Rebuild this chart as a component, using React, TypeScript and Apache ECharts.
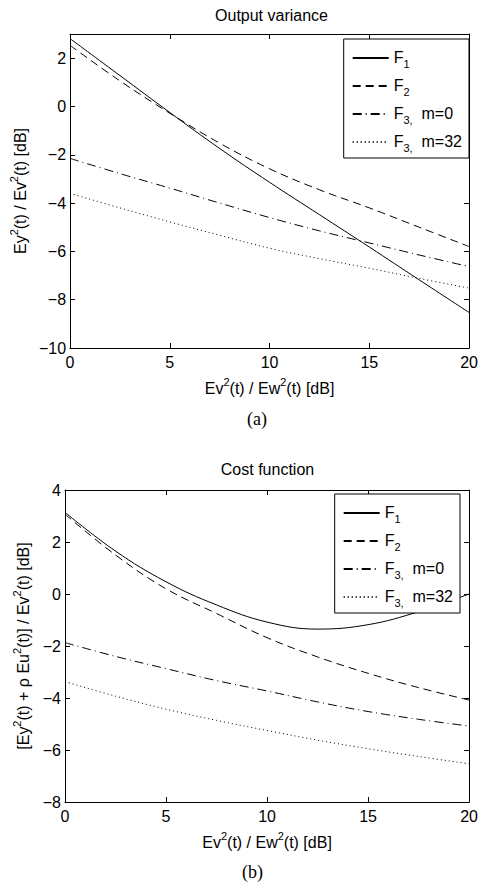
import React, { useEffect, useRef } from "react";
import * as echarts from "echarts";

const xs = [0, 2.5, 5, 7.5, 10, 12.5, 15, 17.5, 20];

// (a) Output variance
const varF1 = [2.81, 1.28, -0.25, -1.74, -3.14, -4.48, -5.82, -7.18, -8.53];
const varF2 = [2.53, 1.06, -0.28, -1.52, -2.58, -3.45, -4.2, -5.0, -5.8];
const varF3m0 = [-2.15, -2.78, -3.38, -4.0, -4.6, -5.15, -5.65, -6.15, -6.63];
const varF3m32 = [-3.6, -4.2, -4.78, -5.33, -5.87, -6.3, -6.7, -7.12, -7.52];

// (b) Cost function
const costF1 = [3.14, 1.65, 0.47, -0.42, -1.08, -1.35, -1.18, -0.68, 0.0];
const costF2 = [3.07, 1.5, 0.2, -0.75, -1.68, -2.42, -3.05, -3.6, -4.08];
const costF3m0 = [-1.87, -2.4, -2.87, -3.33, -3.73, -4.15, -4.52, -4.82, -5.08];
const costF3m32 = [-3.37, -3.93, -4.43, -4.86, -5.25, -5.62, -5.95, -6.25, -6.53];

const seriesNames = ["F1", "F2", "F3m0", "F3m32"];
const legendLabels: Record<string, string> = {
  F1: "{n|F}{s|1}",
  F2: "{n|F}{s|2}",
  F3m0: "{n|F}{s|3,}{n|  m=0}",
  F3m32: "{n|F}{s|3,}{n|  m=32}",
};

const titles = ["Output variance", "Cost function"];
const captions = ["(a)", "(b)"];
const xName = "{n|Ev}{p|2}{n|(t) / Ew}{p|2}{n|(t) [dB]}";
const yNames = [
  "{n|Ey}{p|2}{n|(t) / Ev}{p|2}{n|(t) [dB]}",
  "{n|[Ey}{p|2}{n|(t) + \u03C1 Eu}{p|2}{n|(t)] / Ev}{p|2}{n|(t) [dB]}",
];

const FONT = "'Liberation Sans', Arial, Helvetica, sans-serif";
const SERIF = "'Liberation Serif', 'DejaVu Serif', serif";

const lineTypes: any[] = ["solid", [8, 5], [9, 4, 1, 4], [1, 3]];

const minus = (v: number) => String(v).replace("-", "\u2212");

const nameRich = {
  n: { fontSize: 16, fontFamily: FONT, color: "#000", lineHeight: 20, verticalAlign: "bottom" },
  p: { fontSize: 11, fontFamily: FONT, color: "#000", lineHeight: 11, verticalAlign: "top" },
};

function App() {
  const ref = useRef<HTMLDivElement>(null);
  useEffect(() => {
    if (!ref.current) return;
    const chart = echarts.init(ref.current, undefined, { renderer: "svg" });

    const grids = [
      { left: 69, top: 34, width: 405, height: 314 },
      { left: 65, top: 490, width: 405, height: 312 },
    ];
    const yRanges = [
      { min: -10, max: 3 },
      { min: -8, max: 4 },
    ];
    const tick = { show: true, inside: true, length: 5, lineStyle: { color: "#000", width: 1 } };
    const axisLine = { show: true, onZero: false, lineStyle: { color: "#000", width: 1 } };
    const labelStyle = { color: "#000", fontSize: 16, fontFamily: FONT };

    const xAxis: any[] = [];
    const yAxis: any[] = [];
    [0, 1].forEach((g) => {
      xAxis.push({
        type: "value", gridIndex: g, min: 0, max: 20, interval: 5, position: "bottom",
        axisLine, axisTick: tick, splitLine: { show: false },
        axisLabel: { ...labelStyle, margin: 6, formatter: minus },
        name: xName, nameLocation: "middle", nameGap: 28,
        nameTextStyle: { color: "#000", fontSize: 16, fontFamily: FONT, rich: nameRich },
      });
      xAxis.push({
        type: "value", gridIndex: g, min: 0, max: 20, interval: 5, position: "top",
        axisLine, axisTick: tick, splitLine: { show: false }, axisLabel: { show: false },
      });
      yAxis.push({
        type: "value", gridIndex: g, min: yRanges[g].min, max: yRanges[g].max, interval: 2, position: "left",
        axisLine, axisTick: tick, splitLine: { show: false },
        axisLabel: { ...labelStyle, margin: 4, showMaxLabel: g === 1, formatter: minus },
        name: yNames[g], nameLocation: "middle", nameGap: g === 0 ? 32 : 33,
        nameTextStyle: { color: "#000", fontSize: 16, fontFamily: FONT, rich: nameRich },
      });
      yAxis.push({
        type: "value", gridIndex: g, min: yRanges[g].min, max: yRanges[g].max, interval: 2, position: "right",
        axisLine, axisTick: tick, splitLine: { show: false }, axisLabel: { show: false },
      });
    });

    const dataSets = [
      [varF1, varF2, varF3m0, varF3m32],
      [costF1, costF2, costF3m0, costF3m32],
    ];
    const series: any[] = [];
    dataSets.forEach((set, g) => {
      set.forEach((ys, i) => {
        series.push({
          type: "line",
          name: seriesNames[i],
          xAxisIndex: g * 2,
          yAxisIndex: g * 2,
          data: xs.map((x, k) => [x, ys[k]]),
          smooth: 0.4,
          symbol: "none",
          lineStyle: { color: "#000", width: 1, type: lineTypes[i] },
          itemStyle: { color: "#000" },
          emphasis: { disabled: true },
          z: 2,
        });
      });
    });

    const legendBase = {
      orient: "vertical",
      align: "left",
      itemWidth: 36,
      itemHeight: 12,
      itemGap: 8,
      padding: [10, 7, 5, 8],
      borderColor: "#000",
      borderWidth: 1,
      backgroundColor: "#fff",
      selectedMode: false,
      data: seriesNames,
      itemStyle: { opacity: 0, borderWidth: 0 },
      formatter: (name: string) => legendLabels[name],
      textStyle: {
        color: "#000",
        rich: {
          n: { fontSize: 16, fontFamily: FONT, color: "#000", lineHeight: 18, verticalAlign: "top" },
          s: { fontSize: 11, fontFamily: FONT, color: "#000", lineHeight: 12, padding: [9, 0, 0, 0], verticalAlign: "top" },
        },
      },
      z: 10,
    };

    const graphic: any[] = [
      { type: "text", x: 271.5, y: 15, style: { text: titles[0], fontSize: 16, fontFamily: FONT, fill: "#000", align: "center", verticalAlign: "middle" } },
      { type: "text", x: 267.5, y: 469.5, style: { text: titles[1], fontSize: 16, fontFamily: FONT, fill: "#000", align: "center", verticalAlign: "middle" } },
      { type: "text", x: 257, y: 419, style: { text: captions[0], fontSize: 18, fontFamily: SERIF, fill: "#000", align: "center", verticalAlign: "middle" } },
      { type: "text", x: 252.5, y: 872, style: { text: captions[1], fontSize: 18, fontFamily: SERIF, fill: "#000", align: "center", verticalAlign: "middle" } },
    ];

    chart.setOption({
      animation: false,
      backgroundColor: "#fff",
      grid: grids,
      xAxis,
      yAxis,
      series,
      legend: [
        { ...legendBase, right: 12, top: 39 },
        { ...legendBase, right: 21, top: 494 },
      ],
      graphic,
    });
    return () => chart.dispose();
  }, []);
  return (
    <div
      ref={ref}
      style={{ position: "absolute", left: 0, top: 0, width: 481, height: 885, background: "#fff" }}
    />
  );
}

export default App;
